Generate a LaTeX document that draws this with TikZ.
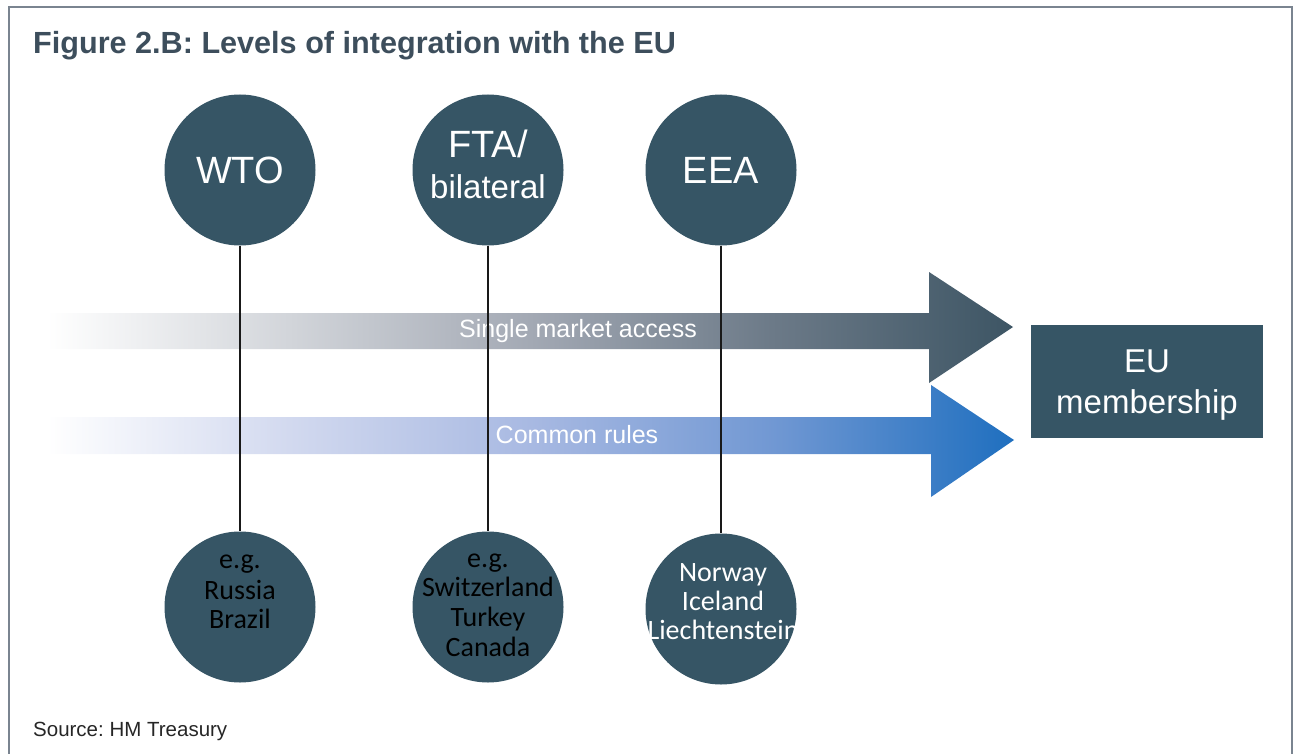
\documentclass[tikz,border=0pt]{standalone}
\usepackage{fontspec}
\setmainfont{Liberation Sans}
\newfontfamily\bottomfont{Carlito}
\frenchspacing
\definecolor{slate}{HTML}{365565}
\definecolor{titlecol}{HTML}{3D4E5C}
\definecolor{framecol}{HTML}{7A8490}
\definecolor{gr1}{HTML}{D2D5DA}
\definecolor{gr2}{HTML}{A3A9B4}
\definecolor{gr3}{HTML}{6C7A88}
\definecolor{gr4}{HTML}{3D5564}
\pgfdeclarehorizontalshading{greyshade}{100bp}{color(0bp)=(white); color(25bp)=(white); color(37.5bp)=(gr1); color(50bp)=(gr2); color(62.5bp)=(gr3); color(75bp)=(gr4); color(100bp)=(gr4)}
\definecolor{bl1}{HTML}{D2D9EF}
\definecolor{bl2}{HTML}{A8B9E2}
\definecolor{bl3}{HTML}{7198D3}
\definecolor{bl4}{HTML}{1F6FBF}
\pgfdeclarehorizontalshading{blueshade}{100bp}{color(0bp)=(white); color(25bp)=(white); color(37.5bp)=(bl1); color(50bp)=(bl2); color(62.5bp)=(bl3); color(75bp)=(bl4); color(100bp)=(bl4)}
\begin{document}
\begin{tikzpicture}[x=1pt,y=-1pt,
  topcirc/.style={circle,fill=slate,minimum size=151pt,inner sep=0pt,text=white},
  botcirc/.style={circle,fill=slate,minimum size=151pt,inner sep=0pt},
  btext/.style={anchor=base,inner sep=0pt,font=\bottomfont\fontsize{28}{29}\selectfont},
  arrowlabel/.style={text=white,inner sep=0pt,font=\fontsize{25}{28}\selectfont},
  link/.style={draw=black!90,line width=1.2pt}]
\useasboundingbox (0,0) rectangle (1300,754);
% frame
\draw[framecol,line width=1.5pt] (9,760) -- (9,7) -- (1292,7) -- (1292,760);
% title
\node[anchor=base west,inner sep=0pt,text=titlecol,font=\bfseries\fontsize{30.6}{34}\selectfont] (title) at (33,54) {Figure 2.B: Levels of integration with the EU};
% arrows
\shade[shading=greyshade] (47,313) -- (929,313) -- (929,272) -- (1013,327) -- (929,383) -- (929,349) -- (47,349) -- cycle;
\shade[shading=blueshade] (47,417) -- (931,417) -- (931,385) -- (1014,440) -- (931,497) -- (931,454) -- (47,454) -- cycle;
\node[arrowlabel] (sma) at (578,331) {Single market access};
\node[arrowlabel] (cr) at (577,435) {Common rules};
% EU box
\node[fill=slate,minimum width=232pt,minimum height=113pt,inner sep=0pt] (eu) at (1147,381.5) {};
\node[anchor=base,inner sep=0pt,text=white,font=\fontsize{33}{36}\selectfont] (eu1) at (1147,372) {EU};
\node[anchor=base,inner sep=0pt,text=white,font=\fontsize{33}{36}\selectfont] (eu2) at (1147,413) {membership};
% top circles
\node[topcirc,font=\fontsize{38}{40}\selectfont] (wto) at (240,170) {WTO};
\node[topcirc] (fta) at (488,170) {};
\node[anchor=base,inner sep=0pt,text=white,font=\fontsize{38}{40}\selectfont] (fta1) at (488,158) {FTA/};
\node[anchor=base,inner sep=0pt,text=white,font=\fontsize{33}{36}\selectfont] (fta2) at (488,198) {bilateral};
\node[topcirc,font=\fontsize{38}{40}\selectfont] (eea) at (721,170) {EEA};
% bottom circles
\node[botcirc] (wtoeg) at (240,607) {};
\node[btext,text=black] (w1) at (240,568) {e.g.};
\node[btext,text=black] (w2) at (240,599) {Russia};
\node[btext,text=black] (w3) at (240,628) {Brazil};
\node[botcirc] (ftaeg) at (488,607) {};
\node[btext,text=black] (f1) at (488,567) {e.g.};
\node[btext,text=black] (f2) at (488,596) {Switzerland};
\node[btext,text=black] (f3) at (488,626) {Turkey};
\node[btext,text=black] (f4) at (488,656) {Canada};
\node[botcirc] (eeaeg) at (721,609) {};
\node[btext,text=white] (e1) at (723,581) {Norway};
\node[btext,text=white] (e2) at (723,610) {Iceland};
\node[btext,text=white] (e3) at (723,639) {Liechtenstein};
% links
\draw[link] (wto) -- (wtoeg);
\draw[link] (fta) -- (ftaeg);
\draw[link] (eea) -- (eeaeg);
% source
\node[anchor=base west,inner sep=0pt,text=black!85,font=\fontsize{20.5}{24}\selectfont] (src) at (33,736) {Source: HM Treasury};
\end{tikzpicture}
\end{document}
